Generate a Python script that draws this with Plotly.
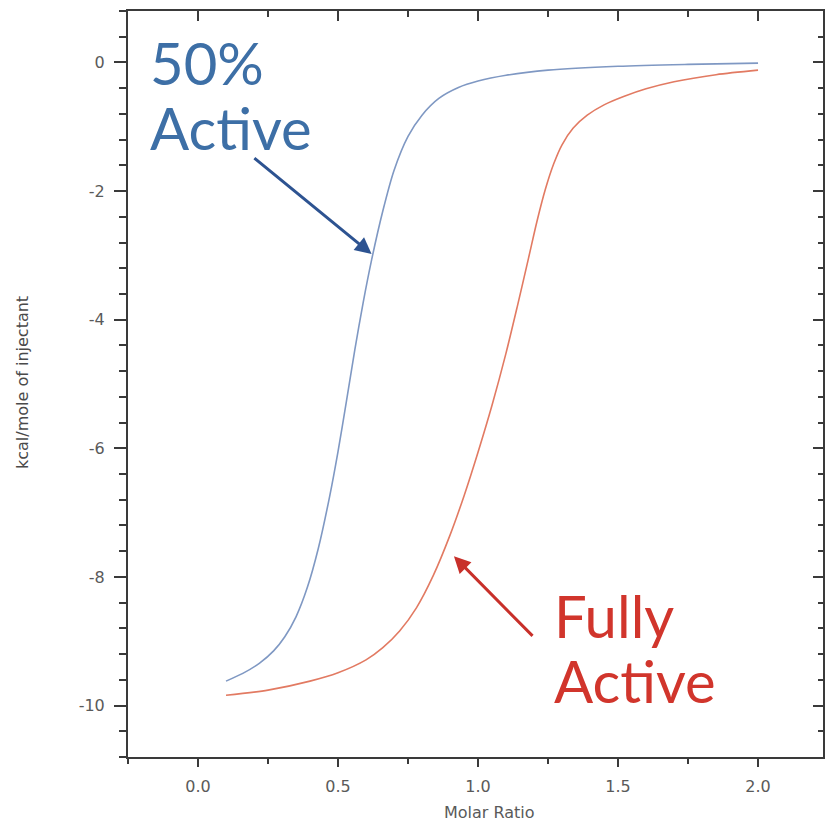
import plotly.graph_objects as go

# ---- data ----
blue_x = [0.10, 0.16, 0.22, 0.27, 0.31, 0.35, 0.39, 0.43, 0.47, 0.50, 0.53, 0.56, 0.59,
          0.62, 0.66, 0.70, 0.75, 0.80, 0.86, 0.93, 1.00, 1.10, 1.25, 1.50, 1.75, 2.00]
blue_y = [-9.62, -9.50, -9.34, -9.15, -8.93, -8.62, -8.17, -7.55, -6.75, -6.05, -5.27, -4.47, -3.73,
          -3.07, -2.31, -1.68, -1.15, -0.82, -0.56, -0.39, -0.29, -0.20, -0.12, -0.06, -0.03, -0.01]

red_x = [0.10, 0.25, 0.40, 0.50, 0.60, 0.66, 0.72, 0.78, 0.84, 0.90, 0.95, 1.00, 1.05, 1.10,
         1.14, 1.18, 1.21, 1.24, 1.27, 1.30, 1.34, 1.39, 1.45, 1.52, 1.60, 1.70, 1.85, 2.00]
red_y = [-9.84, -9.76, -9.62, -9.49, -9.29, -9.10, -8.84, -8.48, -7.98, -7.35, -6.74, -6.06, -5.33, -4.52,
         -3.80, -3.05, -2.48, -1.98, -1.58, -1.28, -1.02, -0.82, -0.66, -0.53, -0.41, -0.30, -0.19, -0.12]

x_ticks = [0.0, 0.5, 1.0, 1.5, 2.0]
x_ticktext = ["0.0", "0.5", "1.0", "1.5", "2.0"]
y_ticks = [0, -2, -4, -6, -8, -10]
y_ticktext = ["0", "-2", "-4", "-6", "-8", "-10"]

x_title = "Molar Ratio"
y_title = "kcal/mole of injectant"
label_50 = ["50%", "Active"]
label_full = ["Fully", "Active"]

XR = [-0.25, 2.232]
YR = [-10.8, 0.8]

axis_col = "#3a3a3a"
tick_font = dict(family="DejaVu Sans", size=16, color="#5a5a5a")

fig = go.Figure()
fig.add_trace(go.Scatter(x=blue_x, y=blue_y, mode="lines", line=dict(color="#7f98c3", width=1.6, shape="spline", smoothing=0.8),
                         showlegend=False, hoverinfo="skip"))
fig.add_trace(go.Scatter(x=red_x, y=red_y, mode="lines", line=dict(color="#e27a62", width=1.6, shape="spline", smoothing=0.8),
                         showlegend=False, hoverinfo="skip"))
# empty trace so that the mirrored (top/right) axes are drawn
fig.add_trace(go.Scatter(x=[None], y=[None], xaxis="x2", yaxis="y2", showlegend=False, hoverinfo="skip"))

common_x = dict(range=XR, tickvals=x_ticks, showgrid=False, zeroline=False, showline=True,
                linecolor=axis_col, linewidth=2, tickcolor=axis_col, tickwidth=2)
common_y = dict(range=YR, tickvals=y_ticks, showgrid=False, zeroline=False, showline=True,
                linecolor=axis_col, linewidth=2, tickcolor=axis_col, tickwidth=2)

fig.update_layout(
    width=825, height=829,
    margin=dict(l=128, r=2, t=11, b=72),
    paper_bgcolor="white", plot_bgcolor="white",
    xaxis=dict(**common_x, ticktext=x_ticktext, ticks="outside", ticklen=8, tickfont=tick_font,
               ticklabelstandoff=6,
               minor=dict(dtick=0.25, tick0=0, ticks="outside", ticklen=5, tickwidth=1.5, tickcolor=axis_col)),
    yaxis=dict(**common_y, ticktext=y_ticktext, ticks="outside", ticklen=12, tickfont=tick_font,
               ticklabelstandoff=6,
               minor=dict(dtick=0.4, tick0=0, ticks="outside", ticklen=7, tickwidth=1.5, tickcolor=axis_col)),
    xaxis2=dict(**common_x, overlaying="x", side="top", anchor="y", ticks="inside", ticklen=10,
                showticklabels=False,
                minor=dict(dtick=0.25, tick0=0, ticks="inside", ticklen=6, tickwidth=1.5, tickcolor=axis_col)),
    yaxis2=dict(**common_y, overlaying="y", side="right", anchor="x", ticks="inside", ticklen=10,
                showticklabels=False,
                minor=dict(dtick=0.4, tick0=0, ticks="inside", ticklen=5, tickwidth=1.5, tickcolor=axis_col)),
)

def px2paper(px, py):
    return (px - 128) / 695.0, (757 - py) / 746.0

ann = []
# axis titles
tx, ty = px2paper(489, 812)
ann.append(dict(text=x_title, x=tx, y=ty, xref="paper", yref="paper", showarrow=False,
                font=dict(family="DejaVu Sans", size=16, color="#5a5a5a"), xanchor="center", yanchor="middle"))
tx, ty = px2paper(22, 383)
ann.append(dict(text=y_title, x=tx, y=ty, xref="paper", yref="paper", showarrow=False, textangle=-90,
                font=dict(family="DejaVu Sans", size=16, color="#4a4a4a"), xanchor="center", yanchor="middle"))

blue_txt = "#3d6fa6"
red_txt = "#d1352c"
for t, cy in zip(label_50, [62, 127]):
    tx, ty = px2paper(148, cy)
    ann.append(dict(text=t, x=tx, y=ty, xref="paper", yref="paper", showarrow=False,
                    font=dict(family="Lato", size=58, color=blue_txt), xanchor="left", yanchor="middle"))
for t, cy in zip(label_full, [615, 680]):
    tx, ty = px2paper(552, cy)
    ann.append(dict(text=t, x=tx, y=ty, xref="paper", yref="paper", showarrow=False,
                    font=dict(family="Lato", size=58, color=red_txt), xanchor="left", yanchor="middle"))

# arrows (tip / tail in data coordinates)
ann.append(dict(x=0.62, y=-2.98, ax=0.196, ay=-1.47, xref="x", yref="y", axref="x", ayref="y",
                text="", showarrow=True, arrowhead=2, arrowsize=1.1, arrowwidth=3, arrowcolor="#2d5391"))
ann.append(dict(x=0.914, y=-7.68, ax=1.20, ay=-8.94, xref="x", yref="y", axref="x", ayref="y",
                text="", showarrow=True, arrowhead=2, arrowsize=1.1, arrowwidth=3, arrowcolor="#c8302a"))

fig.update_layout(annotations=ann)
fig.write_html("out.html")
